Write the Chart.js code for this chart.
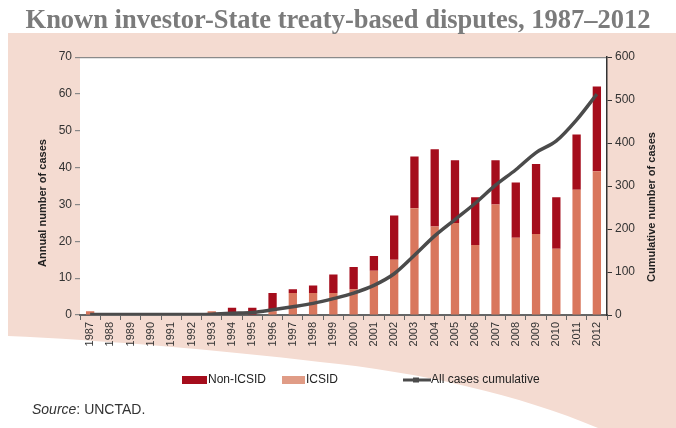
<!DOCTYPE html>
<html>
<head>
<meta charset="utf-8">
<script src="https://cdn.jsdelivr.net/npm/chart.js@4.4.1/dist/chart.umd.min.js"></script>
<style>
    html, body { margin: 0; padding: 0; background: #fff; }
    #wrap { width: 676px; height: 428px; position: relative; }
</style>
</head>
<body>
<div id="wrap"><canvas id="chart"></canvas></div>
<script>
const years = ['1987', '1988', '1989', '1990', '1991', '1992', '1993', '1994', '1995', '1996', '1997', '1998', '1999',
    '2000', '2001', '2002', '2003', '2004', '2005', '2006', '2007', '2008', '2009', '2010', '2011', '2012'];
const icsid = [1, 0, 0, 0, 0, 0, 1, 0, 0, 1, 6, 6, 6, 7, 12, 15, 29, 24, 25, 19, 30, 21, 22, 18, 34, 39];
const nonIcsid = [0, 0, 0, 0, 0, 0, 0, 2, 2, 5, 1, 2, 5, 6, 4, 12, 14, 21, 17, 13, 12, 15, 19, 14, 15, 23];
const cumulative = [1, 1, 1, 1, 1, 1, 2, 4, 6, 12, 19, 27, 38, 51, 69, 96, 139, 184, 222, 260, 302, 338, 378, 405, 454, 514];

const leftTicks = [0, 10, 20, 30, 40, 50, 60, 70];
const rightTicks = [0, 100, 200, 300, 400, 500, 600];

const DARK_RED = '#a50d1c';
const SALMON = '#d9775d';
const SALMON_LEGEND = '#e09c86';
const LINE_GREY = '#4b4b4b';
const PINK = '#f4dbd1';
const SANS = '"Liberation Sans", Arial, sans-serif';

// pink panel behind the chart, with the white sweep at the bottom left
const backdrop = {
    id: 'backdrop',
    beforeDraw(chart) {
        const { ctx, chartArea } = chart;
        ctx.save();
        ctx.fillStyle = '#ffffff';
        ctx.fillRect(0, 0, chart.width, chart.height);

        ctx.fillStyle = PINK;
        ctx.beginPath();
        ctx.moveTo(8, 33);
        ctx.lineTo(chart.width, 33);
        ctx.lineTo(chart.width, chart.height);
        ctx.lineTo(598, chart.height);
        ctx.bezierCurveTo(520, 395, 420, 372, 320, 362);
        ctx.bezierCurveTo(220, 350, 100, 340, 8, 336);
        ctx.closePath();
        ctx.fill();

        ctx.fillStyle = '#ffffff';
        ctx.fillRect(chartArea.left, chartArea.top, chartArea.right - chartArea.left, chartArea.bottom - chartArea.top);
        ctx.restore();
    }
};

// axis titles (both read bottom to top), legend and source line
const annotations = {
    id: 'annotations',
    afterDraw(chart) {
        const { ctx } = chart;
        ctx.save();

        ctx.fillStyle = '#222';
        ctx.font = 'bold 11px ' + SANS;
        ctx.textAlign = 'center';
        ctx.textBaseline = 'middle';
        [['Annual number of cases', 43, 203], ['Cumulative number of cases', 652, 207]].forEach(([text, x, y]) => {
            ctx.save();
            ctx.translate(x, y);
            ctx.rotate(-Math.PI / 2);
            ctx.fillText(text, 0, 0);
            ctx.restore();
        });

        // legend
        const ly = 380;
        ctx.font = '12px ' + SANS;
        ctx.textAlign = 'left';
        ctx.fillStyle = DARK_RED;
        ctx.fillRect(182, ly - 4, 25, 8);
        ctx.fillStyle = SALMON_LEGEND;
        ctx.fillRect(282, ly - 4, 23, 8);
        ctx.strokeStyle = LINE_GREY;
        ctx.lineWidth = 3;
        ctx.beginPath();
        ctx.moveTo(403, ly);
        ctx.lineTo(431, ly);
        ctx.stroke();
        ctx.fillStyle = LINE_GREY;
        ctx.fillRect(413, ly - 2.5, 6, 5);

        ctx.fillStyle = '#222';
        ctx.fillText(chart.data.datasets[1].label, 208, ly);
        ctx.fillText(chart.data.datasets[0].label, 306, ly);
        ctx.fillText(chart.data.datasets[2].label, 431, ly);

        // source
        ctx.fillStyle = '#333';
        ctx.font = 'italic 14px ' + SANS;
        ctx.fillText('Source', 32, 410);
        const w = ctx.measureText('Source').width;
        ctx.font = '14px ' + SANS;
        ctx.fillText(': UNCTAD.', 32 + w, 410);

        ctx.restore();
    }
};

const ctx = document.getElementById('chart').getContext('2d');

new Chart(ctx, {
    type: 'bar',
    data: {
        labels: years,
        datasets: [
            {
                label: 'ICSID',
                data: icsid,
                backgroundColor: SALMON,
                yAxisID: 'y',
                stack: 'cases',
                order: 1,
                barPercentage: 0.41,
                categoryPercentage: 1
            },
            {
                label: 'Non-ICSID',
                data: nonIcsid,
                backgroundColor: DARK_RED,
                yAxisID: 'y',
                stack: 'cases',
                order: 1,
                barPercentage: 0.41,
                categoryPercentage: 1
            },
            {
                type: 'line',
                label: 'All cases cumulative',
                data: cumulative,
                borderColor: LINE_GREY,
                borderWidth: 3.5,
                pointRadius: 0,
                cubicInterpolationMode: 'monotone',
                yAxisID: 'y1',
                order: 0
            }
        ]
    },
    options: {
        responsive: true,
        maintainAspectRatio: false,
        animation: false,
        layout: {
            padding: { top: 0, left: 0, right: 0, bottom: 78 }
        },
        plugins: {
            legend: { display: false },
            tooltip: { enabled: false },
            title: {
                display: true,
                text: 'Known investor-State treaty-based disputes, 1987–2012',
                color: '#7b7b7b',
                font: { family: '"Liberation Serif", "DejaVu Serif", serif', size: 26.5, weight: 'bold', lineHeight: 1.1 },
                padding: { top: 7, bottom: 21 }
            }
        },
        scales: {
            x: {
                stacked: true,
                grid: {
                    offset: true,
                    drawOnChartArea: false,
                    tickLength: 5,
                    color: '#666'
                },
                border: { color: '#666', width: 2 },
                ticks: {
                    autoSkip: false,
                    minRotation: 90,
                    maxRotation: 90,
                    padding: 2,
                    color: '#333',
                    font: { family: SANS, size: 11 }
                },
                afterFit(scale) {
                    scale.height = 35;
                }
            },
            y: {
                position: 'left',
                stacked: true,
                min: leftTicks[0],
                max: leftTicks[leftTicks.length - 1],
                afterBuildTicks(scale) {
                    scale.ticks = leftTicks.map(v => ({ value: v }));
                },
                grid: {
                    color: c => (c.tick && c.tick.value === 70 ? '#8a8a8a' : 'rgba(0,0,0,0)'),
                    tickColor: '#888',
                    tickLength: 5,
                    lineWidth: 1.2
                },
                border: { display: false },
                ticks: {
                    padding: 3,
                    color: '#333',
                    font: { family: SANS, size: 12 }
                },
                afterFit(scale) {
                    scale.width = 80;
                }
            },
            y1: {
                position: 'right',
                min: rightTicks[0],
                max: rightTicks[rightTicks.length - 1],
                afterBuildTicks(scale) {
                    scale.ticks = rightTicks.map(v => ({ value: v }));
                },
                grid: {
                    drawOnChartArea: false,
                    tickColor: '#333',
                    tickLength: 5
                },
                border: { color: '#333', width: 1.5 },
                ticks: {
                    padding: 3,
                    color: '#333',
                    font: { family: SANS, size: 12 }
                },
                afterFit(scale) {
                    scale.width = 69;
                }
            }
        }
    },
    plugins: [backdrop, annotations]
});
</script>
</body>
</html>
